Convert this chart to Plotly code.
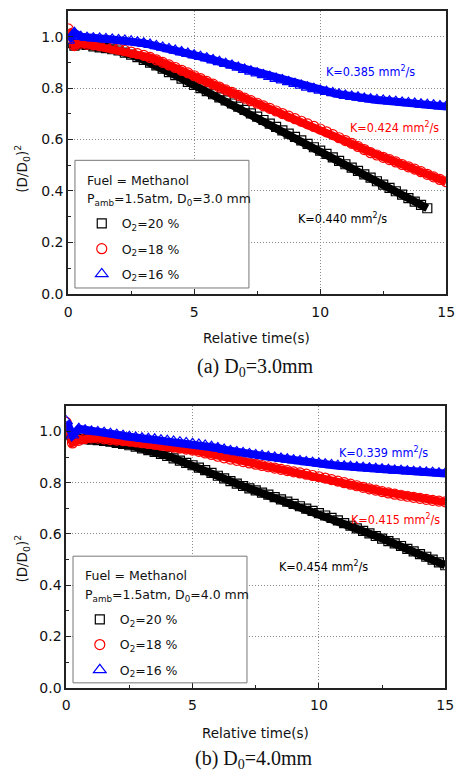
import plotly.graph_objects as go

# Sampling times of the droplet image sequence (s)
TIME_S = [0.0, 0.25, 0.5, 0.75, 1.0, 1.25, 1.5, 1.75, 2.0, 2.25, 2.5, 2.75,
          3.0, 3.25, 3.5, 3.75, 4.0, 4.25, 4.5, 4.75, 5.0, 5.25, 5.5, 5.75,
          6.0, 6.25, 6.5, 6.75, 7.0, 7.25, 7.5, 7.75, 8.0, 8.25, 8.5, 8.75,
          9.0, 9.25, 9.5, 9.75, 10.0, 10.25, 10.5, 10.75, 11.0, 11.25, 11.5,
          11.75, 12.0, 12.25, 12.5, 12.75, 13.0, 13.25, 13.5, 13.75, 14.0,
          14.25, 14.5, 14.75, 15.0]

# (a) D0 = 3.0 mm, normalised squared diameter (D/D0)^2
A_O2_20 = [0.975, 0.965, 0.970, 0.968, 0.962, 0.958, 0.955, 0.951, 0.946, 0.938,
           0.930, 0.920, 0.910, 0.899, 0.888, 0.876, 0.862, 0.850, 0.837, 0.824,
           0.812, 0.800, 0.788, 0.776, 0.764, 0.752, 0.740, 0.728, 0.715, 0.702,
           0.689, 0.676, 0.662, 0.649, 0.636, 0.623, 0.610, 0.597, 0.583, 0.570,
           0.557, 0.544, 0.531, 0.517, 0.504, 0.491, 0.478, 0.465, 0.452, 0.438,
           0.425, 0.412, 0.399, 0.386, 0.372, 0.359, 0.346, 0.333]
A_O2_18 = [1.030, 0.965, 0.975, 0.970, 0.968, 0.965, 0.961, 0.956, 0.952, 0.946,
           0.940, 0.934, 0.927, 0.919, 0.910, 0.900, 0.890, 0.880, 0.869, 0.859,
           0.848, 0.837, 0.826, 0.815, 0.804, 0.793, 0.783, 0.772, 0.761, 0.751,
           0.741, 0.731, 0.721, 0.711, 0.701, 0.691, 0.681, 0.671, 0.661, 0.651,
           0.641, 0.630, 0.619, 0.607, 0.596, 0.585, 0.573, 0.561, 0.549, 0.540,
           0.531, 0.522, 0.513, 0.503, 0.494, 0.485, 0.475, 0.465, 0.455, 0.445,
           0.436]
A_O2_16 = [0.985, 1.015, 1.000, 0.996, 0.994, 0.993, 0.991, 0.989, 0.987, 0.985,
           0.982, 0.978, 0.974, 0.969, 0.964, 0.958, 0.952, 0.946, 0.940, 0.934,
           0.928, 0.922, 0.916, 0.909, 0.902, 0.895, 0.888, 0.880, 0.872, 0.865,
           0.858, 0.851, 0.844, 0.837, 0.831, 0.824, 0.817, 0.810, 0.803, 0.797,
           0.791, 0.786, 0.781, 0.776, 0.771, 0.767, 0.764, 0.760, 0.757, 0.754,
           0.752, 0.749, 0.747, 0.744, 0.742, 0.740, 0.737, 0.735, 0.733, 0.730,
           0.728]

# (b) D0 = 4.0 mm
B_O2_20 = [0.985, 0.975, 0.972, 0.970, 0.968, 0.966, 0.963, 0.960, 0.955, 0.951,
           0.946, 0.940, 0.934, 0.927, 0.920, 0.912, 0.904, 0.895, 0.886, 0.877,
           0.868, 0.859, 0.849, 0.838, 0.827, 0.817, 0.806, 0.796, 0.787, 0.778,
           0.770, 0.761, 0.753, 0.744, 0.735, 0.726, 0.717, 0.708, 0.699, 0.690,
           0.681, 0.672, 0.663, 0.653, 0.642, 0.632, 0.622, 0.612, 0.602, 0.592,
           0.582, 0.572, 0.563, 0.553, 0.542, 0.532, 0.521, 0.511, 0.500, 0.489,
           0.478]
B_O2_18 = [1.035, 0.955, 0.965, 0.972, 0.975, 0.974, 0.971, 0.968, 0.966, 0.964,
           0.962, 0.959, 0.956, 0.953, 0.950, 0.946, 0.943, 0.939, 0.935, 0.931,
           0.927, 0.922, 0.916, 0.910, 0.903, 0.897, 0.892, 0.887, 0.882, 0.877,
           0.872, 0.867, 0.862, 0.857, 0.852, 0.847, 0.842, 0.838, 0.833, 0.828,
           0.823, 0.818, 0.812, 0.806, 0.800, 0.794, 0.788, 0.782, 0.776, 0.771,
           0.765, 0.760, 0.755, 0.751, 0.747, 0.743, 0.739, 0.735, 0.731, 0.728,
           0.725]
B_O2_16 = [1.040, 0.985, 1.010, 1.005, 1.000, 0.998, 0.995, 0.991, 0.987, 0.983,
           0.979, 0.976, 0.973, 0.971, 0.969, 0.966, 0.964, 0.961, 0.958, 0.955,
           0.952, 0.949, 0.945, 0.940, 0.935, 0.929, 0.924, 0.920, 0.916, 0.912,
           0.908, 0.905, 0.901, 0.898, 0.894, 0.891, 0.888, 0.885, 0.881, 0.878,
           0.875, 0.872, 0.869, 0.866, 0.864, 0.862, 0.860, 0.858, 0.856, 0.854,
           0.852, 0.850, 0.848, 0.847, 0.845, 0.843, 0.842, 0.840, 0.839, 0.837,
           0.836]

SERIES_NAMES = ["O<sub>2</sub>=20 %", "O<sub>2</sub>=18 %", "O<sub>2</sub>=16 %"]
COLORS = ["#000000", "#ff0000", "#0000ff"]
SYMBOLS = ["square-open", "circle-open", "triangle-up-open"]
SIZES = [9, 10, 11]

# Burning-rate constants and where they are written (time, (D/D0)^2)
A_K = ["0.440", "0.424", "0.385"]
A_K_POS = [(10.9, 0.295), (12.95, 0.649), (12.0, 0.865)]
B_K = ["0.454", "0.415", "0.339"]
B_K_POS = [(10.2, 0.475), (13.05, 0.658), (12.55, 0.919)]

W, H = 463, 772
FONT = "DejaVu Sans"
K_FONT = "DejaVu Sans Condensed, DejaVu Sans"


def px_x(v):
    return v / W


def px_y(v):
    return 1 - v / H


def paper_text(x, y, text, size, family=FONT, xanchor="center", angle=0):
    fig.add_annotation(x=px_x(x), y=px_y(y), xref="paper", yref="paper",
                       xanchor=xanchor, yanchor="middle", showarrow=False,
                       text=text, textangle=angle,
                       font=dict(family=family, size=size, color="#111"))


fig = go.Figure()

panels = [
    dict(xa="x", ya="y", legend="legend", data=[A_O2_20, A_O2_18, A_O2_16],
         k=A_K, kpos=A_K_POS, d0="3.0",
         box=(73, 162, 252, 291), cap="(a) D<sub>0</sub>=3.0mm",
         xtitle_y=342, ylab_y=170, cap_y=371, xc=260),
    dict(xa="x2", ya="y2", legend="legend2", data=[B_O2_20, B_O2_18, B_O2_16],
         k=B_K, kpos=B_K_POS, d0="4.0",
         box=(71, 562, 250, 690), cap="(b) D<sub>0</sub>=4.0mm",
         xtitle_y=741, ylab_y=564, cap_y=767, xc=259),
]

for p in panels:
    for i, vals in enumerate(p["data"]):
        t = TIME_S[:len(vals)]
        # dense band underneath the open symbols
        fig.add_trace(go.Scatter(
            x=t, y=vals, mode="lines", xaxis=p["xa"], yaxis=p["ya"],
            line=dict(color=COLORS[i], width=8), showlegend=False,
            hoverinfo="skip"))
        fig.add_trace(go.Scatter(
            x=t, y=vals, mode="markers", xaxis=p["xa"], yaxis=p["ya"],
            name=SERIES_NAMES[i], legend=p["legend"],
            legendgroup=f"{p['legend']}_{i}",
            marker=dict(symbol=SYMBOLS[i], size=SIZES[i], color=COLORS[i],
                        line=dict(width=1.2, color=COLORS[i]))))
    for i, (kv, (kx, ky)) in enumerate(zip(p["k"], p["kpos"])):
        fig.add_annotation(
            x=kx, y=ky, xref=p["xa"], yref=p["ya"], showarrow=False,
            xanchor="center", yanchor="middle",
            text=f"K={kv} mm<sup>2</sup>/s",
            font=dict(family=K_FONT, size=12.5, color=COLORS[i]))

    # legend frame and header lines
    x0, y0, x1, y1 = p["box"]
    fig.add_shape(type="rect", xref="paper", yref="paper",
                  x0=px_x(x0), x1=px_x(x1), y0=px_y(y1), y1=px_y(y0),
                  line=dict(color="#777", width=1), fillcolor="white",
                  layer="above")
    paper_text(x0 + 10, y0 + 20, "Fuel = Methanol", 12.5, xanchor="left")
    paper_text(x0 + 10, y0 + 40,
               f"P<sub>amb</sub>=1.5atm, D<sub>0</sub>={p['d0']} mm", 12.5,
               xanchor="left")

    # axis title, y title and panel caption
    paper_text(p["xc"], p["xtitle_y"], "Relative time(s)", 13.5)
    paper_text(19, p["ylab_y"], "(D/D<sub>0</sub>)<sup>2</sup>", 13.5,
               angle=-90)
    paper_text(p["xc"] - 2, p["cap_y"], p["cap"], 20,
               family="Liberation Serif")

axis_common = dict(
    showline=True, linecolor="#222", linewidth=1.6, mirror=True,
    ticks="inside", ticklen=5, tickwidth=1.2, tickcolor="#222",
    showgrid=True, gridcolor="#8a8a8a", griddash="1px,2px", gridwidth=1,
    zeroline=False, tickfont=dict(family=FONT, size=14, color="#111"),
)
xcommon = dict(axis_common, range=[0, 15], tick0=0, dtick=5,
               ticklabelstandoff=4,
               minor=dict(ticks="inside", ticklen=3, dtick=2.5,
                          tickcolor="#222", showgrid=False))
ycommon = dict(axis_common, range=[0, 1.1], tick0=0, dtick=0.2,
               tickformat=".1f",
               minor=dict(ticks="inside", ticklen=3, dtick=0.1,
                          tickcolor="#222", showgrid=False))

legend_common = dict(
    bgcolor="rgba(0,0,0,0)", borderwidth=0,
    font=dict(family=FONT, size=12.5, color="#111"),
    xanchor="left", yanchor="top", tracegroupgap=6, itemsizing="trace",
)

fig.update_layout(
    width=W, height=H, margin=dict(l=0, r=0, t=0, b=0),
    paper_bgcolor="white", plot_bgcolor="white",
    xaxis=dict(xcommon, domain=[px_x(66), px_x(455)], anchor="y"),
    yaxis=dict(ycommon, domain=[px_y(297), px_y(11)], anchor="x"),
    xaxis2=dict(xcommon, domain=[px_x(64), px_x(454)], anchor="y2"),
    yaxis2=dict(ycommon, domain=[px_y(695), px_y(410)], anchor="x2"),
    legend=dict(legend_common, x=px_x(80), y=px_y(211)),
    legend2=dict(legend_common, x=px_x(78), y=px_y(611)),
)

fig.write_html("out.html")
